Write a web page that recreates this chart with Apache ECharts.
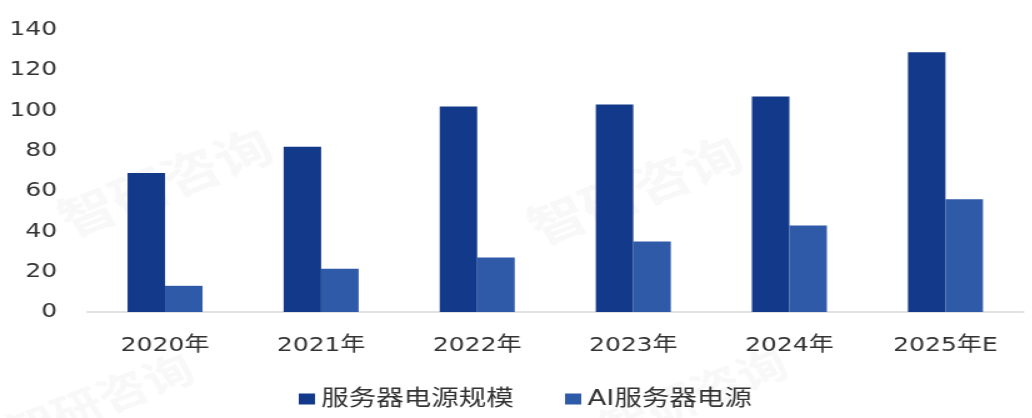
<!DOCTYPE html>
<html>
<head>
<meta charset="utf-8">
<script src="https://cdn.jsdelivr.net/npm/echarts@6/dist/echarts.min.js"></script>
<style>
  html, body { margin: 0; padding: 0; background: #ffffff; overflow: hidden; }
  #wrap { width: 1032px; height: 418px; overflow: hidden; }
  /* the chart is laid out narrower and widened, giving the broad lettering */
  #chart { width: 825.6px; height: 418px; transform: scaleX(1.25); transform-origin: 0 0; }
</style>
</head>
<body>
<div id="wrap"><div id="chart"></div></div>
<script>
const categories = ['2020年', '2021年', '2022年', '2023年', '2024年', '2025年E'];
const serverPower = [69, 82, 102, 103, 107, 129];
const aiServerPower = [13, 21.5, 27, 35, 43, 56];
const seriesNames = ['服务器电源规模', 'AI服务器电源'];
const yTicks = { min: 0, max: 140, interval: 20 };
const watermarkText = '智研咨询';

const latinFont = '"DejaVu Sans", "Noto Sans CJK SC", sans-serif';
const cjkFont = '"Noto Sans CJK SC", sans-serif';

// faint rotated brand marks behind the plot
function watermark(x, y, size) {
  return {
    type: 'text',
    x: x, y: y,
    rotation: Math.PI / 7,
    z: -10,
    silent: true,
    style: {
      text: watermarkText,
      font: 'bold ' + size + 'px ' + cjkFont,
      fill: 'rgba(120,130,150,0.055)',
      align: 'center',
      verticalAlign: 'middle'
    }
  };
}

const chart = echarts.init(document.getElementById('chart'), null, { renderer: 'canvas' });

chart.setOption({
  animation: false,
  backgroundColor: '#ffffff',
  graphic: [
    watermark(132, 182, 46),
    watermark(508, 190, 46),
    watermark(80, 400, 40),
    watermark(555, 395, 40)
  ],
  grid: { left: 69.6, right: 7.2, top: 30, bottom: 106, containLabel: false },
  legend: {
    data: seriesNames,
    left: 234,
    top: 383,
    icon: 'rect',
    itemWidth: 13,
    itemHeight: 11,
    itemGap: 41,
    textStyle: { fontFamily: latinFont, fontSize: 22, color: '#333333' }
  },
  xAxis: {
    type: 'category',
    data: categories,
    axisLine: { show: true, lineStyle: { color: '#d9d9d9', width: 1.5 } },
    axisTick: { show: false },
    axisLabel: { margin: 24, fontFamily: latinFont, fontSize: 20, color: '#333333' }
  },
  yAxis: {
    type: 'value',
    min: yTicks.min,
    max: yTicks.max,
    interval: yTicks.interval,
    splitLine: { show: false },
    axisLine: { show: false },
    axisTick: { show: false },
    axisLabel: { margin: 24, fontFamily: latinFont, fontSize: 20, color: '#333333' }
  },
  series: [
    {
      name: seriesNames[0],
      type: 'bar',
      data: serverPower,
      barWidth: 30,
      barGap: '0%',
      itemStyle: { color: '#133a8a' }
    },
    {
      name: seriesNames[1],
      type: 'bar',
      data: aiServerPower,
      barWidth: 30,
      itemStyle: { color: '#2f5aa8' }
    }
  ]
});
</script>
</body>
</html>
